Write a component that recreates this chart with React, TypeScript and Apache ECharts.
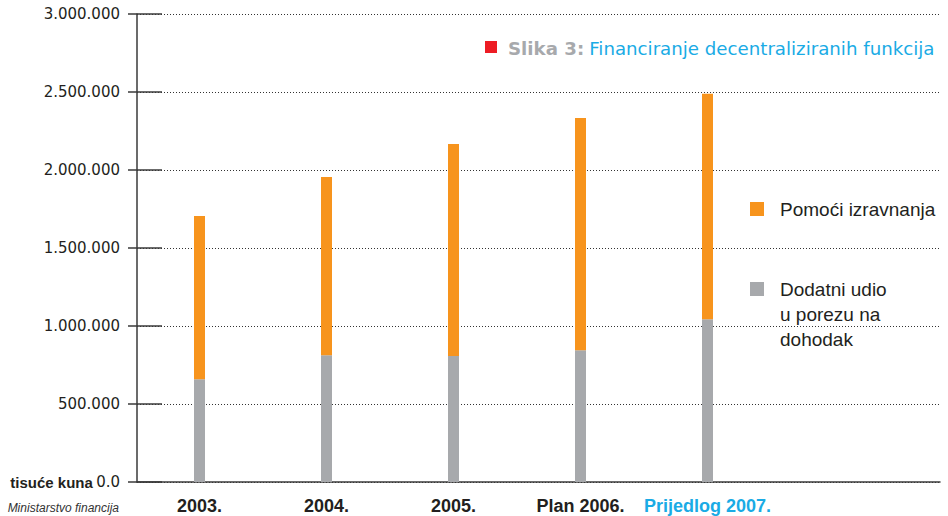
import React, { useEffect, useRef } from 'react';
import * as echarts from 'echarts';

const categories = ['2003.', '2004.', '2005.', 'Plan 2006.', 'Prijedlog 2007.'];
const dodatniUdio = [659000, 813000, 808000, 845000, 1044000];
const pomociIzravnanja = [1046000, 1142000, 1359000, 1489000, 1444000];
const yMin = 0;
const yMax = 3000000;
const yInterval = 500000;
const nameOrange = 'Pomoći izravnanja';
const nameGray = 'Dodatni udio u porezu na dohodak';
const grayLegendLines = ['Dodatni udio', 'u porezu na', 'dohodak'];
const titleBold = 'Slika 3:';
const titleText = 'Financiranje decentraliziranih funkcija';
const unitText = 'tisuće kuna';
const sourceText = 'Ministarstvo financija';

const C_ORANGE = '#F7941D';
const C_GRAY = '#A7A9AC';
const C_BLUE = '#1AABE5';
const C_TEXT = '#231F20';
const C_AXIS = '#3a3a3a';

function fmt(v: number) {
  if (v === 0) return '{b|' + unitText + '} {n|0.0}';
  return '{n|' + String(v).replace(/\B(?=(\d{3})+(?!\d))/g, '.') + '}';
}

export default function App() {
  const ref = useRef<HTMLDivElement>(null);
  useEffect(() => {
    if (!ref.current) return;
    const chart = echarts.init(ref.current, undefined, { renderer: 'svg' });
    const axisLine = { color: C_AXIS, width: 1.5 };
    const lastCat = categories[categories.length - 1];
    chart.setOption({
      animation: false,
      backgroundColor: '#ffffff',
      title: {
        text: '{s|' + titleBold + '} {f|' + titleText + '}',
        left: 508,
        top: 37,
        padding: 0,
        textStyle: {
          fontWeight: 'normal',
          rich: {
            s: { fontFamily: 'DejaVu Sans', fontWeight: 'bold', fontSize: 18.2, color: C_GRAY, lineHeight: 22 },
            f: { fontFamily: 'DejaVu Sans', fontWeight: 'normal', fontSize: 18.2, color: C_BLUE, lineHeight: 22 },
          },
        },
      },
      grid: [
        { left: 137, right: 8, top: 14, bottom: 34 },
        { left: 136, width: 635, top: 14, bottom: 34 },
      ],
      xAxis: [
        {
          type: 'category', gridIndex: 0, data: [''],
          axisLine: { show: true, lineStyle: axisLine },
          axisTick: { show: false }, axisLabel: { show: false }, splitLine: { show: false },
        },
        {
          type: 'category', gridIndex: 1, data: categories,
          axisLine: { show: false }, axisTick: { show: false },
          axisLabel: {
            interval: 0, margin: 15, fontFamily: 'Liberation Sans', fontWeight: 'bold', fontSize: 18,
            color: (v: string) => (v === lastCat ? C_BLUE : C_TEXT),
          },
        },
      ],
      yAxis: [
        {
          type: 'value', gridIndex: 0, min: yMin, max: yMax, interval: yInterval,
          axisLine: { show: true, lineStyle: axisLine },
          axisTick: { show: true, length: 9, lineStyle: axisLine },
          splitLine: { show: true, lineStyle: { type: [1, 2], color: '#333', width: 1 } },
          axisLabel: {
            margin: 17, formatter: fmt,
            rich: {
              n: { fontFamily: 'DejaVu Sans', fontSize: 15, color: C_TEXT },
              b: { fontFamily: 'Liberation Sans', fontWeight: 'bold', fontSize: 15, color: C_TEXT },
            },
          },
        },
        {
          type: 'value', gridIndex: 0, min: yMin, max: yMax, interval: yInterval, position: 'left', offset: 0,
          axisLine: { show: false },
          axisTick: { show: true, inside: true, length: 25, lineStyle: axisLine },
          axisLabel: { show: false }, splitLine: { show: false },
        },
        { type: 'value', gridIndex: 1, min: yMin, max: yMax, interval: yInterval, show: false },
      ],
      legend: [
        {
          data: [nameOrange], left: 750, top: 198, orient: 'vertical', padding: 0,
          itemWidth: 14, itemHeight: 14, icon: 'rect', selectedMode: false,
          textStyle: { fontFamily: 'Liberation Sans', fontSize: 19, color: C_TEXT, lineHeight: 22, padding: [0, 0, 0, 11] },
        },
        {
          data: [nameGray], left: 750, top: 226.5, orient: 'vertical', padding: 0,
          itemWidth: 14, itemHeight: 14, icon: 'rect', selectedMode: false,
          formatter: () => '\n\n' + grayLegendLines.join('\n'),
          textStyle: { fontFamily: 'Liberation Sans', fontSize: 19, color: C_TEXT, lineHeight: 25, padding: [0, 0, 0, 11] },
        },
      ],
      series: [
        {
          type: 'bar', name: nameGray, xAxisIndex: 1, yAxisIndex: 2, stack: 'total', barWidth: 11,
          data: dodatniUdio, itemStyle: { color: C_GRAY },
        },
        {
          type: 'bar', name: nameOrange, xAxisIndex: 1, yAxisIndex: 2, stack: 'total', barWidth: 11,
          data: pomociIzravnanja, itemStyle: { color: C_ORANGE },
        },
      ],
      graphic: [
        { type: 'rect', shape: { x: 485, y: 41, width: 12, height: 12 }, style: { fill: '#ED1C24' } },
        {
          type: 'text', x: 119, y: 508,
          style: {
            text: sourceText, align: 'right', verticalAlign: 'middle',
            font: 'italic 12px "Liberation Sans"', fill: '#333',
          },
        },
      ],
    });
    return () => chart.dispose();
  }, []);
  return <div ref={ref} style={{ position: 'fixed', left: 0, top: 0, width: 948, height: 516 }} />;
}
